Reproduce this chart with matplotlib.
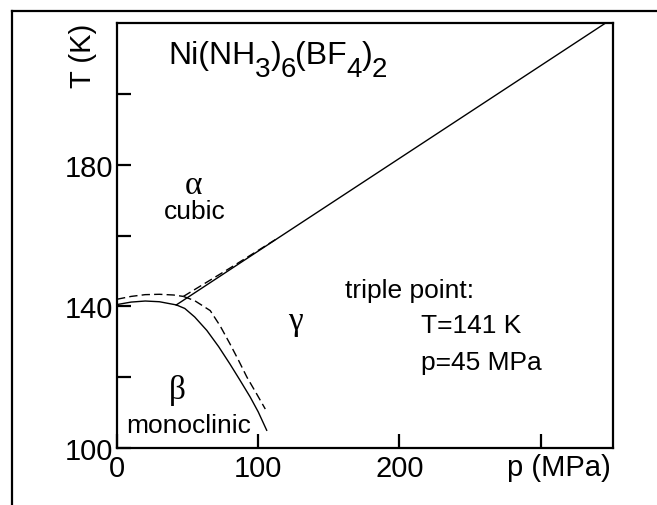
import matplotlib
matplotlib.use("Agg")
import matplotlib.pyplot as plt
from matplotlib.lines import Line2D
import matplotlib.transforms as mtransforms

plt.rcParams['font.family'] = ['Liberation Sans', 'DejaVu Sans']

# ---- data (p in MPa, T in K) ----
# solid curves
ab_solid_p = [0, 10, 20, 30, 42]
ab_solid_T = [140.5, 141.2, 141.5, 141.3, 140.4]
bg_solid_p = [42, 48, 55, 63.6, 72, 80, 87, 94.3, 100, 106]
bg_solid_T = [140.4, 139.4, 137.0, 133.2, 128.6, 123.7, 119.2, 114.4, 110.2, 105.0]
ag_solid_p = [42, 108, 346]
ag_solid_T = [140.4, 157.7, 220.0]
# dashed curves
ab_dash_p = [0, 10, 20, 30, 40, 47]
ab_dash_T = [142.0, 142.8, 143.3, 143.4, 143.2, 142.8]
bg_dash_p = [47, 55, 66, 73, 80, 86, 92, 99, 105]
bg_dash_T = [142.8, 141.6, 138.8, 134.5, 129.4, 124.8, 120.0, 115.2, 111.0]
ag_dash_p = [47, 80, 112]
ag_dash_T = [142.8, 150.8, 158.8]

y_ticks = [100, 120, 140, 160, 180, 200]
y_ticklabels = ['100', '', '140', '', '180', '']
x_ticks = [0, 100, 200, 300]
x_ticklabels = ['0', '100', '200', '']

fig = plt.figure(figsize=(6.57, 5.06), dpi=100)
ax = fig.add_axes([117/657, 57/506, (612.7-117)/657, (449-24)/506])
ax.set_xlim(0, 351)
ax.set_ylim(100, 220)

lw = 1.0
ax.plot(ab_solid_p, ab_solid_T, color='black', lw=lw)
ax.plot(bg_solid_p, bg_solid_T, color='black', lw=lw)
ax.plot(ag_solid_p, ag_solid_T, color='black', lw=lw)
for pp, tt in [(ab_dash_p, ab_dash_T), (bg_dash_p, bg_dash_T), (ag_dash_p, ag_dash_T)]:
    ax.plot(pp, tt, color='black', lw=lw, dashes=(6, 3))

for s in ax.spines.values():
    s.set_linewidth(1.6)

ax.set_yticks(y_ticks)
ax.set_yticklabels(y_ticklabels)
ax.set_xticks(x_ticks)
ax.set_xticklabels(x_ticklabels)
ax.tick_params(axis='both', direction='in', length=10, width=1.6,
               labelsize=21, pad=3)
ax.tick_params(axis='x', pad=4)

# axis labels placed like in the reference
ax.text(-0.068, 211, 'T (K)', rotation=90, fontsize=21,
        ha='center', va='center',
        transform=mtransforms.blended_transform_factory(ax.transAxes, ax.transData))
ax.text(313, -0.045, 'p (MPa)', fontsize=21, ha='center', va='center',
        transform=mtransforms.blended_transform_factory(ax.transData, ax.transAxes))

# title formula built from pieces (large, lowered subscripts)
title_pieces = [('Ni(NH', False), ('3', True), (')', False), ('6', True),
                ('(BF', False), ('4', True), (')', False), ('2', True)]
renderer = fig.canvas.get_renderer()
x0, y0 = ax.transData.transform((36.5, 208.7))
cur = x0
for s, sub in title_pieces:
    fs = 20 if sub else 23
    dy = -13 if sub else 0
    t = fig.text(cur, y0 + dy, s, fontsize=fs, ha='left', va='baseline',
                 transform=mtransforms.IdentityTransform())
    bb = t.get_window_extent(renderer)
    cur = bb.x1 - 0.5

# annotations
greek = ['Liberation Serif', 'DejaVu Serif']
ax.text(54, 174.4, 'α', fontsize=24, family=greek, ha='center', va='center')
ax.text(55, 165, 'cubic', fontsize=19, ha='center', va='baseline')
ax.text(126, 136, 'γ', fontsize=24, family=greek, ha='center', va='center')
ax.text(43, 116.5, 'β', fontsize=24, family=greek, ha='center', va='center')
ax.text(51, 104.5, 'monoclinic', fontsize=19, ha='center', va='baseline')
ax.text(161.7, 142.5, 'triple point:', fontsize=19, ha='left', va='baseline')
ax.text(215, 132.7, 'T=141 K', fontsize=19, ha='left', va='baseline')
ax.text(215, 122.3, 'p=45 MPa', fontsize=19, ha='left', va='baseline')

# outer frame (left and top lines of the scanned figure border)
fig.add_artist(Line2D([12/657, 12/657], [0, 1 - 12/506], color='black', lw=1.6,
                      transform=fig.transFigure))
fig.add_artist(Line2D([12/657, 1], [1 - 12/506, 1 - 12/506], color='black', lw=1.6,
                      transform=fig.transFigure))

fig.savefig('out.png', dpi=100)
